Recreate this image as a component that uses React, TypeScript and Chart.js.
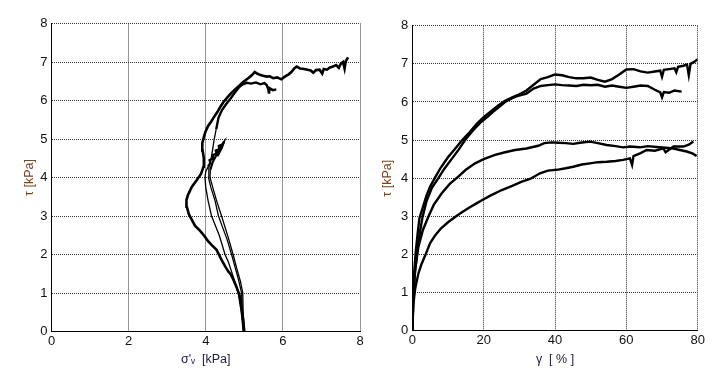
import React, { useEffect, useRef } from 'react';
import { Chart, registerables } from 'chart.js';

Chart.register(...registerables);

// ---------- Left panel: stress paths (σ'v vs τ) ----------
const pathA_sigma = [5.00,4.97,4.93,4.89,4.80,4.72,4.65,4.59,4.50,4.41,4.34,4.28,4.15,4.05,3.98,3.85,3.72,3.64,3.56,3.51,3.50,3.54,3.64,3.76,3.88,3.94,3.95,3.92,3.91,3.95,3.99,4.06,4.15,4.22,4.30,4.38,4.46,4.55,4.64,4.74,4.84,4.97,5.10,5.20,5.27,5.33,5.42,5.49,5.58,5.66,5.75,5.85,5.96,6.05,6.15,6.22,6.30,6.36,6.45,6.55,6.64,6.72,6.79,6.86,6.95,7.02,7.06,7.14,7.22,7.30,7.38,7.45,7.50,7.56,7.60,7.63,7.69];
const pathA_tau = [0.00,0.30,0.60,0.90,1.15,1.34,1.48,1.55,1.70,1.86,2.00,2.12,2.25,2.36,2.46,2.62,2.75,2.90,3.05,3.24,3.42,3.55,3.76,3.92,4.10,4.28,4.50,4.70,4.89,5.05,5.18,5.34,5.47,5.58,5.70,5.84,5.96,6.07,6.17,6.27,6.36,6.48,6.58,6.66,6.74,6.70,6.66,6.64,6.62,6.63,6.58,6.60,6.55,6.62,6.68,6.74,6.84,6.88,6.83,6.82,6.80,6.78,6.72,6.79,6.80,6.70,6.82,6.80,6.86,6.88,6.92,6.85,6.95,7.00,6.83,7.02,7.12];

const pathB_sigma = [4.98,4.95,4.93,4.86,4.78,4.67,4.55,4.42,4.33,4.24,4.13,4.07,4.08,4.14,4.19,4.22,4.27,4.33,4.42,4.54,4.65,4.75,4.86,4.96,5.06,5.18,5.30,5.42,5.52,5.58,5.62,5.64,5.66,5.74,5.83];
const pathB_tau = [0.00,0.40,1.00,1.30,1.60,2.00,2.40,2.75,3.00,3.40,3.75,4.00,4.25,4.50,4.80,5.00,5.25,5.55,5.75,5.92,6.06,6.20,6.34,6.42,6.46,6.44,6.47,6.42,6.45,6.40,6.30,6.18,6.32,6.27,6.29];

const pathC_sigma = [5.00,4.97,4.96,4.90,4.80,4.71,4.58,4.41,4.28,4.18,4.11,4.12,4.18,4.26,4.33,4.40,4.46,4.42,4.36,4.30,4.34];
const pathC_tau = [0.00,0.50,1.00,1.30,1.65,2.00,2.45,3.00,3.40,3.75,4.00,4.20,4.40,4.55,4.70,4.82,4.90,4.78,4.66,4.55,4.62];

const pathD_sigma = [4.97,4.92,4.84,4.72,4.59,4.50,4.35,4.15,4.06,4.00,3.98,4.00,4.06,4.12,4.10,4.20,4.18,4.28,4.26,4.36,4.34,4.44,4.47];
const pathD_tau = [0.00,0.50,1.00,1.40,1.80,2.00,2.50,3.00,3.40,3.75,4.00,4.15,4.28,4.38,4.45,4.50,4.58,4.62,4.70,4.74,4.82,4.86,4.93];

// ---------- Right panel: τ vs γ ----------
const curveA_gamma = [0,0.2,0.5,1.0,1.5,2.0,3.0,4.0,5.0,6.4,8.0,10.0,12.0,14.0,16.0,18.0,20.0,22.0,24.0,26.0,28.0,30.0,32.0,34.0,36.0,38.0,40.0,42.0,44.0,46.0,48.0,50.0,52.0,54.0,56.0,58.0,60.0,62.0,64.0,66.0,68.0,69.5,70.0,70.5,72.0,73.5,74.0,74.5,76.0,77.0,77.5,78.0,79.0,80.0];
const curveA_tau = [0,0.9,1.5,2.1,2.55,2.95,3.25,3.55,3.78,4.02,4.28,4.55,4.77,5.0,5.2,5.42,5.6,5.75,5.9,6.03,6.12,6.2,6.3,6.45,6.6,6.65,6.72,6.7,6.65,6.62,6.62,6.64,6.58,6.53,6.6,6.72,6.85,6.86,6.8,6.77,6.8,6.82,6.66,6.84,6.86,6.88,6.78,6.92,6.95,6.98,6.7,7.0,7.05,7.12];

const curveB_gamma = [0,0.3,0.7,1.5,2.0,2.8,4.0,5.5,7.3,9.0,11.0,13.0,14.8,17.0,19.0,21.0,23.0,26.0,28.0,30.0,32.0,34.0,36.0,38.0,40.0,42.0,44.0,46.0,48.0,50.0,52.0,54.0,56.0,58.0,60.0,62.0,64.0,66.0,68.0,69.5,70.0,70.5,72.0,73.5,75.5];
const curveB_tau = [0,0.9,1.5,2.15,2.5,2.95,3.4,3.75,4.0,4.25,4.5,4.75,5.0,5.25,5.45,5.6,5.77,6.0,6.1,6.17,6.22,6.35,6.42,6.44,6.46,6.44,6.43,6.42,6.45,6.44,6.45,6.4,6.43,6.4,6.37,6.4,6.43,6.42,6.32,6.25,6.12,6.26,6.24,6.3,6.27];

const curveC_gamma = [0,0.3,0.8,1.7,3.0,4.5,6.0,8.2,10.5,12.9,15.0,17.6,20.0,23.2,26.0,28.8,32.0,35.3,37.0,39.1,41.0,43.0,45.1,47.0,49.8,52.0,54.5,57.0,59.1,61.0,63.8,66.0,68.5,71.0,73.2,75.0,76.9,78.5,79.7];
const curveC_tau = [0,0.9,1.6,2.2,2.65,2.99,3.3,3.6,3.85,4.04,4.22,4.39,4.5,4.61,4.68,4.74,4.78,4.85,4.92,4.94,4.93,4.92,4.9,4.93,4.96,4.92,4.87,4.84,4.81,4.83,4.81,4.84,4.82,4.8,4.78,4.74,4.7,4.65,4.58];

const curveD_gamma = [0,0.3,0.8,1.7,2.6,3.6,5.0,6.4,8.0,10.1,12.0,13.8,16.0,18.0,19.5,22.0,25.1,28.0,30.7,33.0,35.8,38.0,40.5,43.0,45.1,47.5,49.8,52.0,54.5,57.0,59.1,61.0,61.6,62.0,64.0,65.7,68.0,70.4,71.0,73.2,76.0,77.5,78.8];
const curveD_tau = [0,0.7,1.1,1.5,1.75,1.97,2.3,2.5,2.68,2.85,2.98,3.1,3.23,3.34,3.42,3.55,3.69,3.8,3.91,3.98,4.13,4.2,4.22,4.26,4.3,4.36,4.39,4.42,4.43,4.45,4.48,4.52,4.35,4.58,4.66,4.74,4.72,4.78,4.68,4.83,4.83,4.88,4.96];

// ---------- Tick labels / titles ----------
const leftXTicks = [0, 2, 4, 6, 8];
const rightXTicks = [0, 20, 40, 60, 80];
const yTicks = [0, 1, 2, 3, 4, 5, 6, 7, 8];
const leftXTitle = "σ'ᵥ  [kPa]";
const rightXTitle = 'γ  [ % ]';
const yTitle = 'τ [kPa]';

const FONT = "'Liberation Sans', Arial, Helvetica, sans-serif";

function zip(xs: number[], ys: number[]) {
  const n = Math.min(xs.length, ys.length);
  const out: { x: number; y: number }[] = [];
  for (let i = 0; i < n; i++) out.push({ x: xs[i], y: ys[i] });
  return out;
}

// thinBelow: segments whose start lies below this τ value are drawn thinner
function lineSet(xs: number[], ys: number[], thick: number, thin: number, thinBelow: number) {
  return {
    data: zip(xs, ys),
    showLine: true,
    borderColor: '#000',
    backgroundColor: '#000',
    borderWidth: thick,
    pointRadius: 0,
    tension: 0,
    fill: false,
    segment: {
      borderWidth: (ctx: any) => (Math.max(ctx.p0.parsed.y, ctx.p1.parsed.y) < thinBelow ? thin : thick),
    },
  };
}

type Series = { xs: number[]; ys: number[]; thick: number; thin: number; thinBelow: number };

type PanelOpts = {
  series: Series[];
  xMax: number;
  xTicks: number[];
  xTitle: string;
  yAxisWidth: number;
  xAxisHeight: number;
  padTop: number;
  padRight: number;
  yTitlePad: number;
};

function makeConfig(o: PanelOpts): any {
  const gridCommon = { color: '#333', lineWidth: 1, drawTicks: false };
  const borderCommon = { display: true, color: '#000', width: 1, dash: [1, 1] };
  return {
    type: 'scatter',
    data: { datasets: o.series.map((s) => lineSet(s.xs, s.ys, s.thick, s.thin, s.thinBelow)) },
    options: {
      animation: false,
      responsive: false,
      events: [],
      layout: { padding: { top: o.padTop, right: o.padRight, left: 0, bottom: 0 } },
      plugins: { legend: { display: false }, tooltip: { enabled: false } },
      scales: {
        x: {
          type: 'linear',
          min: 0,
          max: o.xMax,
          afterBuildTicks: (s: any) => { s.ticks = o.xTicks.map((v) => ({ value: v })); },
          afterFit: (s: any) => { s.height = o.xAxisHeight; },
          grid: gridCommon,
          border: borderCommon,
          ticks: { color: '#111', font: { family: FONT, size: 13 }, padding: 2, maxRotation: 0 },
          title: { display: true, text: o.xTitle, color: '#1c1c3c', font: { family: FONT, size: 12.5 }, padding: { top: 0, bottom: 7 } },
        },
        y: {
          type: 'linear',
          min: 0,
          max: 8,
          afterBuildTicks: (s: any) => { s.ticks = yTicks.map((v) => ({ value: v })); },
          afterFit: (s: any) => { s.width = o.yAxisWidth; },
          grid: gridCommon,
          border: borderCommon,
          ticks: { color: '#111', font: { family: FONT, size: 13 }, padding: 4 },
          title: { display: true, text: yTitle, color: '#7d4320', font: { family: FONT, size: 12.5 }, padding: { top: o.yTitlePad, bottom: 0 } },
        },
      },
    },
  };
}

function Panel({ width, height, opts }: { width: number; height: number; opts: PanelOpts }) {
  const ref = useRef<HTMLCanvasElement | null>(null);
  useEffect(() => {
    if (!ref.current) return;
    const chart = new Chart(ref.current, makeConfig(opts));
    return () => chart.destroy();
  }, []);
  return <canvas ref={ref} width={width} height={height} style={{ display: 'block', width, height }} />;
}

export default function App() {
  const left: PanelOpts = {
    series: [
      { xs: pathA_sigma, ys: pathA_tau, thick: 2.6, thin: 2.4, thinBelow: 0 },
      { xs: pathB_sigma, ys: pathB_tau, thick: 2.4, thin: 1.3, thinBelow: 5.3 },
      { xs: pathC_sigma, ys: pathC_tau, thick: 2.2, thin: 1.3, thinBelow: 4.3 },
      { xs: pathD_sigma, ys: pathD_tau, thick: 2.4, thin: 1.3, thinBelow: 4.3 },
    ],
    xMax: 8,
    xTicks: leftXTicks,
    xTitle: leftXTitle,
    yAxisWidth: 51.5,
    xAxisHeight: 42.5,
    padTop: 23.5,
    padRight: 10,
    yTitlePad: 22.5,
  };
  const right: PanelOpts = {
    series: [
      { xs: curveA_gamma, ys: curveA_tau, thick: 2.4, thin: 2.4, thinBelow: 0 },
      { xs: curveB_gamma, ys: curveB_tau, thick: 2.4, thin: 2.4, thinBelow: 0 },
      { xs: curveC_gamma, ys: curveC_tau, thick: 2.4, thin: 2.4, thinBelow: 0 },
      { xs: curveD_gamma, ys: curveD_tau, thick: 2.4, thin: 2.4, thinBelow: 0 },
    ],
    xMax: 80,
    xTicks: rightXTicks,
    xTitle: rightXTitle,
    yAxisWidth: 42.3,
    xAxisHeight: 43.3,
    padTop: 25.7,
    padRight: 29.3,
    yTitlePad: 10.5,
  };
  return (
    <div style={{ position: 'absolute', left: 0, top: 0, width: 727, height: 374, background: '#fff' }}>
      <div style={{ position: 'absolute', left: 0, top: 0 }}>
        <Panel width={370} height={374} opts={left} />
      </div>
      <div style={{ position: 'absolute', left: 370, top: 0 }}>
        <Panel width={357} height={374} opts={right} />
      </div>
    </div>
  );
}
